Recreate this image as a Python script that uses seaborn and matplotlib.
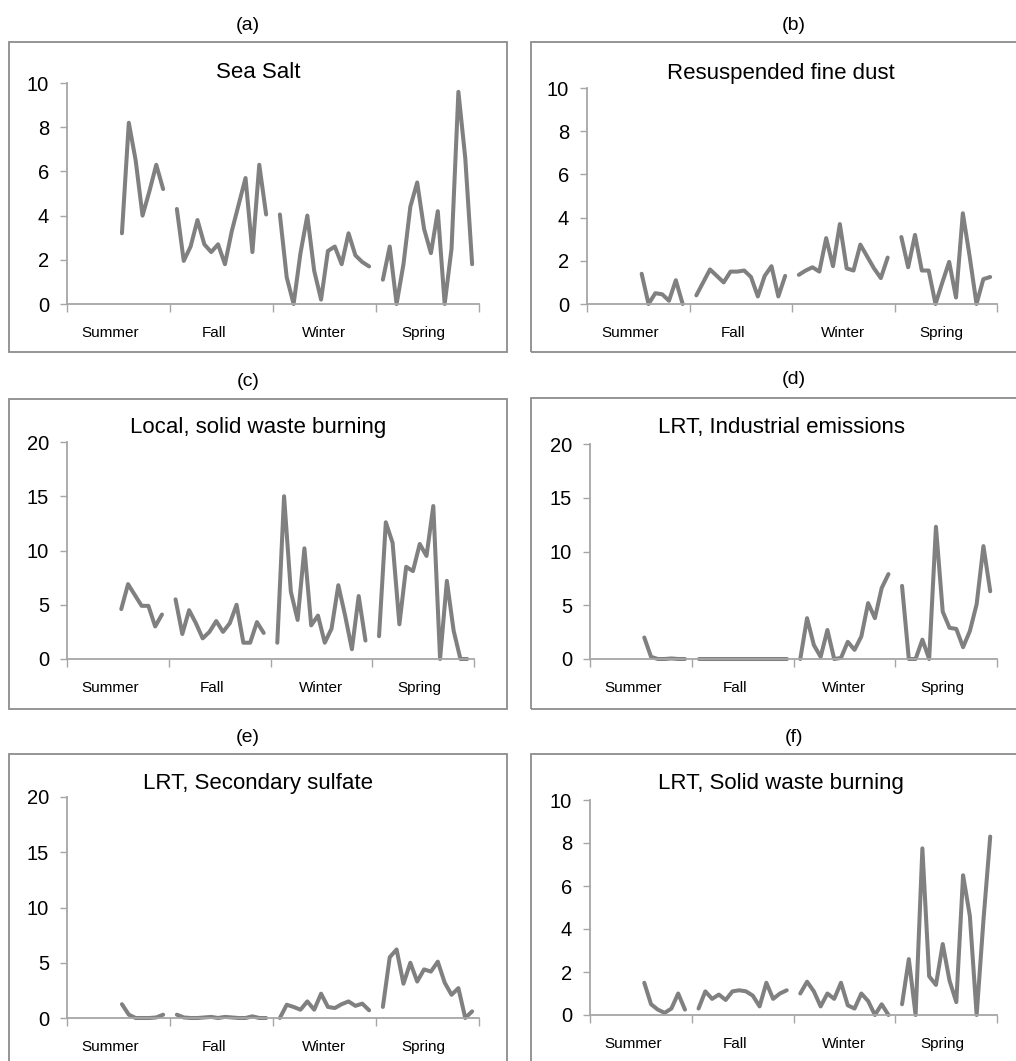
import matplotlib
matplotlib.use("Agg")
import matplotlib.pyplot as plt
from matplotlib.patches import Rectangle
import seaborn as sns
import pandas as pd

sns.set_theme(style="ticks")
plt.rcParams["font.family"] = ["Liberation Sans", "DejaVu Sans"]
plt.rcParams["text.color"] = "black"

LINE = "#808080"
AXC = "#a6a6a6"
BOX = "#8c8c8c"
W, H = 1016, 1061

seasons = ["Summer", "Fall", "Winter", "Spring"]
season_label_pos = [6.3, 21.4, 37.5, 51.9]

sea_salt = [
    [3.2, 8.2, 6.5, 4.0, 5.1, 6.3, 5.2],
    [4.3, 1.95, 2.6, 3.8, 2.7, 2.35, 2.7, 1.8, 3.3, 4.5, 5.7, 2.35, 6.3, 4.05],
    [4.05, 1.2, 0.0, 2.3, 4.0, 1.5, 0.2, 2.4, 2.6, 1.8, 3.2, 2.2, 1.9, 1.7],
    [1.1, 2.6, 0.0, 1.8, 4.4, 5.5, 3.4, 2.3, 4.2, 0.0, 2.5, 9.6, 6.6, 1.8],
]
fine_dust = [
    [1.4, 0.0, 0.5, 0.45, 0.15, 1.1, 0.0],
    [0.4, 1.0, 1.6, 1.3, 1.0, 1.5, 1.5, 1.55, 1.25, 0.35, 1.3, 1.75, 0.35, 1.3],
    [1.35, 1.55, 1.7, 1.5, 3.05, 1.75, 3.7, 1.65, 1.55, 2.75, 2.2, 1.65, 1.2, 2.15],
    [3.1, 1.7, 3.2, 1.55, 1.55, 0.0, 1.0, 1.95, 0.3, 4.2, 2.2, 0.0, 1.15, 1.25],
]
local_waste = [
    [4.6, 6.9, 5.9, 4.9, 4.9, 3.0, 4.1],
    [5.5, 2.3, 4.5, 3.3, 1.9, 2.5, 3.5, 2.5, 3.3, 5.0, 1.5, 1.5, 3.4, 2.4],
    [1.5, 15.0, 6.2, 3.6, 10.2, 3.1, 4.0, 1.5, 2.8, 6.8, 4.0, 0.9, 5.8, 1.7],
    [2.1, 12.6, 10.7, 3.2, 8.5, 8.1, 10.6, 9.5, 14.1, 0.0, 7.2, 2.6, 0.0, 0.0],
]
industrial = [
    [2.0, 0.2, 0.0, 0.0, 0.05, 0.0, 0.0],
    [0.0] * 14,
    [0.0, 3.8, 1.3, 0.2, 2.7, 0.0, 0.1, 1.6, 0.85, 2.1, 5.2, 3.8, 6.6, 7.9],
    [6.8, 0.0, 0.0, 1.8, 0.0, 12.3, 4.4, 2.9, 2.8, 1.1, 2.6, 5.1, 10.5, 6.3],
]
sulfate = [
    [1.25, 0.3, 0.0, 0.0, 0.0, 0.05, 0.3],
    [0.3, 0.05, 0.0, 0.0, 0.05, 0.1, 0.0, 0.1, 0.05, 0.0, 0.0, 0.15, 0.0, 0.0],
    [0.0, 1.2, 1.0, 0.75, 1.5, 0.75, 2.2, 1.0, 0.9, 1.25, 1.5, 1.1, 1.3, 0.7],
    [1.0, 5.5, 6.2, 3.1, 5.0, 3.3, 4.4, 4.2, 5.1, 3.2, 2.1, 2.7, 0.0, 0.6],
]
lrt_waste = [
    [1.5, 0.5, 0.25, 0.1, 0.3, 1.0, 0.25],
    [0.3, 1.1, 0.75, 0.95, 0.7, 1.1, 1.15, 1.1, 0.9, 0.4, 1.5, 0.75, 1.0, 1.15],
    [1.0, 1.55, 1.1, 0.4, 1.0, 0.75, 1.5, 0.45, 0.3, 1.0, 0.65, 0.0, 0.5, 0.0],
    [0.5, 2.6, 0.0, 7.75, 1.8, 1.4, 3.3, 1.6, 0.6, 6.5, 4.6, 0.0, 4.4, 8.3],
]


def to_frame(series):
    rows = []
    for k, vals in enumerate(series):
        start = 15 * (k + 1) - len(vals)
        for i, v in enumerate(vals):
            rows.append({"slot": start + i, "value": v, "season": seasons[k]})
    return pd.DataFrame(rows)


# label, title, data, ymax, step,
# axes px (x0, x1, ytop, ybottom), box px (x0, x1, ytop, ybottom),
# label px (x, y), title px (x, y)
panels = [
    ("(a)", "Sea Salt", sea_salt, 10, 2,
     (67, 479, 83, 304), (9, 507, 42, 352), (248, 25), (258, 73)),
    ("(b)", "Resuspended fine dust", fine_dust, 10, 2,
     (587, 997, 88, 304), (531, 1030, 42, 352), (794, 25), (781, 73)),
    ("(c)", "Local, solid waste burning", local_waste, 20, 5,
     (67, 474, 442, 659), (9, 507, 399, 709), (248, 382), (258, 428)),
    ("(d)", "LRT, Industrial emissions", industrial, 20, 5,
     (590, 997, 444, 659), (531, 1030, 398, 709), (794, 380), (781, 428)),
    ("(e)", "LRT, Secondary sulfate", sulfate, 20, 5,
     (67, 479, 797, 1018), (9, 507, 754, 1080), (248, 737), (258, 784)),
    ("(f)", "LRT, Solid waste burning", lrt_waste, 10, 2,
     (590, 997, 800, 1015), (531, 1030, 754, 1080), (794, 737), (781, 784)),
]

fig = plt.figure(figsize=(W / 100, H / 100), dpi=100)

for label, title, data, ymax, step, arect, brect, lpos, tpos in panels:
    bx0, bx1, by0, by1 = brect
    fig.add_artist(Rectangle((bx0 / W, 1 - by1 / H), (bx1 - bx0) / W, (by1 - by0) / H,
                             transform=fig.transFigure, fill=False,
                             edgecolor=BOX, linewidth=1.3))
    fig.text(lpos[0] / W, 1 - lpos[1] / H, label,
             ha="center", va="center", fontsize=14, color="black")

    x0, x1, y0, y1 = arect
    ax = fig.add_axes([x0 / W, 1 - y1 / H, (x1 - x0) / W, (y1 - y0) / H])
    ax.set_facecolor("none")
    df = to_frame(data)
    sns.lineplot(data=df, x="slot", y="value", units="season", estimator=None,
                 color=LINE, linewidth=2.9, legend=False, ax=ax)
    for ln in ax.lines:
        ln.set_clip_on(False)
        ln.set_solid_joinstyle("round")

    ax.set_xlim(0, 60)
    ax.set_ylim(0, ymax)
    ax.set_yticks(range(0, ymax + 1, step))
    ax.set_xticks([0, 15, 30, 45, 60])
    ax.set_xticklabels([])
    ax.set_xticks(season_label_pos, minor=True)
    ax.set_xticklabels(seasons, minor=True, fontsize=11)
    ax.tick_params(axis="x", which="major", length=6, width=1, color=AXC, direction="out")
    ax.tick_params(axis="x", which="minor", length=0, pad=16, labelcolor="black")
    ax.tick_params(axis="y", length=5, width=1, color=AXC, labelsize=14.5, pad=8,
                   direction="out", labelcolor="black")
    ax.set_xlabel("")
    ax.set_ylabel("")
    sns.despine(ax=ax)
    for sp in ("left", "bottom"):
        ax.spines[sp].set_color(AXC)
        ax.spines[sp].set_linewidth(1.3)

    fig.text(tpos[0] / W, 1 - tpos[1] / H, title,
             ha="center", va="center", fontsize=16, color="black")

fig.savefig("out.png", dpi=100)
